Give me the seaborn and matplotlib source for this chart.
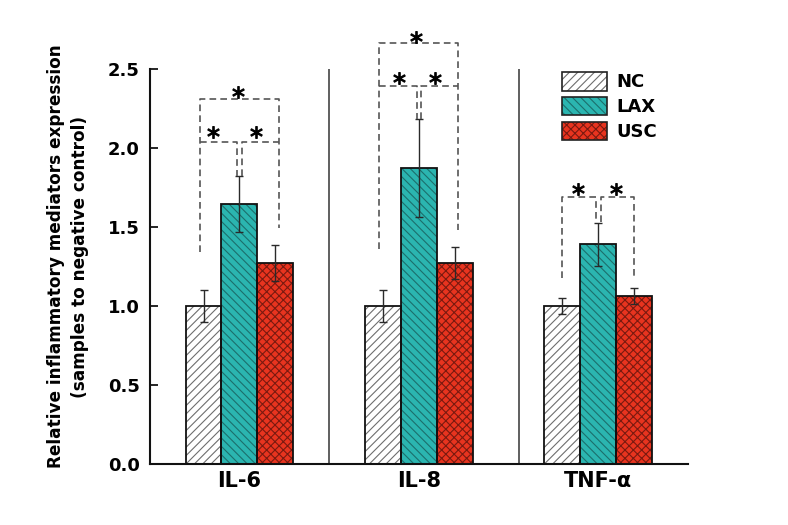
import numpy as np
import pandas as pd
import matplotlib
matplotlib.use('Agg')
import matplotlib.pyplot as plt
from matplotlib.patches import Patch, Rectangle
import seaborn as sns

# data
cytokines = ['IL-6', 'IL-8', 'TNF-α']
groups = ['NC', 'LAX', 'USC']
nc_mean = [1.00, 1.00, 1.00]
nc_err = [0.10, 0.10, 0.05]
lax_mean = [1.645, 1.87, 1.39]
lax_err = [0.175, 0.31, 0.135]
usc_mean = [1.27, 1.27, 1.065]
usc_err = [0.115, 0.10, 0.05]

face_colors = ['#ffffff', '#2bb5b0', '#e8341f']
hatch_colors = ['#6e6e6e', '#1c6f6c', '#7a1a10']
hatches = ['////', '\\\\\\\\', 'xxxx']

# significance brackets: (category, x-left offset, x-right offset, level, left leg end, right leg end)
brackets = [
    (0, -0.22, 0.22, 2.31, 1.34, 1.49),
    (0, -0.22, -0.015, 2.04, 2.04, 1.82),
    (0, 0.015, 0.22, 2.04, 1.82, 2.04),
    (1, -0.22, 0.22, 2.66, 1.36, 1.48),
    (1, -0.22, -0.012, 2.39, 2.39, 2.18),
    (1, 0.012, 0.22, 2.39, 2.18, 2.39),
    (2, -0.20, -0.015, 1.69, 1.18, 1.53),
    (2, 0.015, 0.20, 1.69, 1.53, 1.18),
]
# asterisks: (category, x offset, level)
stars = [
    (0, -0.147, 2.10), (0, 0.092, 2.10), (0, -0.01, 2.35),
    (1, -0.11, 2.44), (1, 0.09, 2.44), (1, -0.014, 2.70),
    (2, -0.11, 1.74), (2, 0.10, 1.74),
]
separators = [0.5, 1.56]

df = pd.DataFrame({
    'cytokine': cytokines * 3,
    'group': [g for g in groups for _ in cytokines],
    'value': nc_mean + lax_mean + usc_mean,
    'err': nc_err + lax_err + usc_err,
})

sns.set_style('ticks')
plt.rcParams['font.family'] = ['DejaVu Sans']
plt.rcParams['hatch.linewidth'] = 0.8
for key in ['text.color', 'axes.labelcolor', 'xtick.color', 'ytick.color']:
    plt.rcParams[key] = 'black'

fig = plt.figure(figsize=(7.88, 5.25), dpi=100)
ax = fig.add_axes([0.190, 0.116, 0.683, 0.753])

sns.barplot(data=df, x='cytokine', y='value', hue='group', order=cytokines,
            hue_order=groups, palette=face_colors, width=0.6, errorbar=None,
            saturation=1, legend=False, ax=ax)

bar_sets = list(ax.containers)
for i, cont in enumerate(bar_sets):
    errs = df[df['group'] == groups[i]]['err'].values
    for bar, e in zip(cont, errs):
        bar.set_hatch(hatches[i])
        bar.set_edgecolor(hatch_colors[i])
        bar.set_linewidth(0)
        ax.add_patch(Rectangle(bar.get_xy(), bar.get_width(), bar.get_height(),
                               fill=False, ec='#111111', lw=1.3, zorder=3))
        cx = bar.get_x() + bar.get_width() / 2
        ax.errorbar(cx, bar.get_height(), yerr=e, color='#2a2a2a', lw=1.0,
                    capsize=3, capthick=1.0, zorder=4)

for s in separators:
    ax.plot([s, s], [0, 2.5], color='#444444', lw=1.2, zorder=1)

for c, x0, x1, y, l0, l1 in brackets:
    ax.plot([c + x0, c + x0, c + x1, c + x1], [l0, y, y, l1], color='#555555',
            lw=1.2, ls=(0, (4, 2.5)), clip_on=False, zorder=5)

for c, dx, y in stars:
    ax.plot(c + dx, y, marker='$*$', ms=8.5, mew=0.8, color='black',
            ls='none', clip_on=False, zorder=6)

ax.set_xlim(-0.5, 2.5)
ax.set_ylim(0, 2.5)
ax.set_yticks([0, 0.5, 1.0, 1.5, 2.0, 2.5])
ax.set_yticklabels(['0.0', '0.5', '1.0', '1.5', '2.0', '2.5'])
ax.tick_params(axis='y', direction='in', length=6, width=1.2, pad=7,
               labelsize=13)
ax.tick_params(axis='x', length=0, pad=5, labelsize=15)
for lab in ax.get_xticklabels() + ax.get_yticklabels():
    lab.set_fontweight('bold')
ax.set_xlabel('')
ax.set_ylabel('Relative inflammatory mediators expression\n(samples to negative control)',
              fontsize=12.2, fontweight='bold', linespacing=1.45)
ax.yaxis.set_label_coords(-0.113, 0.525)
sns.despine(ax=ax)
for sp in ['left', 'bottom']:
    ax.spines[sp].set_linewidth(1.5)
    ax.spines[sp].set_color('#111111')

handles = [(Patch(facecolor=face_colors[i], edgecolor=hatch_colors[i], hatch=hatches[i], lw=0),
            Patch(fill=False, edgecolor='#222222', lw=1.2)) for i in range(3)]
ax.legend(handles, groups, loc='upper left', bbox_to_anchor=(553 / 788, 1 - 63 / 525),
          bbox_transform=fig.transFigure, frameon=False, handlelength=2.5,
          handleheight=1.2, labelspacing=0.3, borderpad=0, handletextpad=0.5,
          prop={'weight': 'bold', 'size': 13})

fig.savefig('out.png', dpi=100, facecolor='white')
